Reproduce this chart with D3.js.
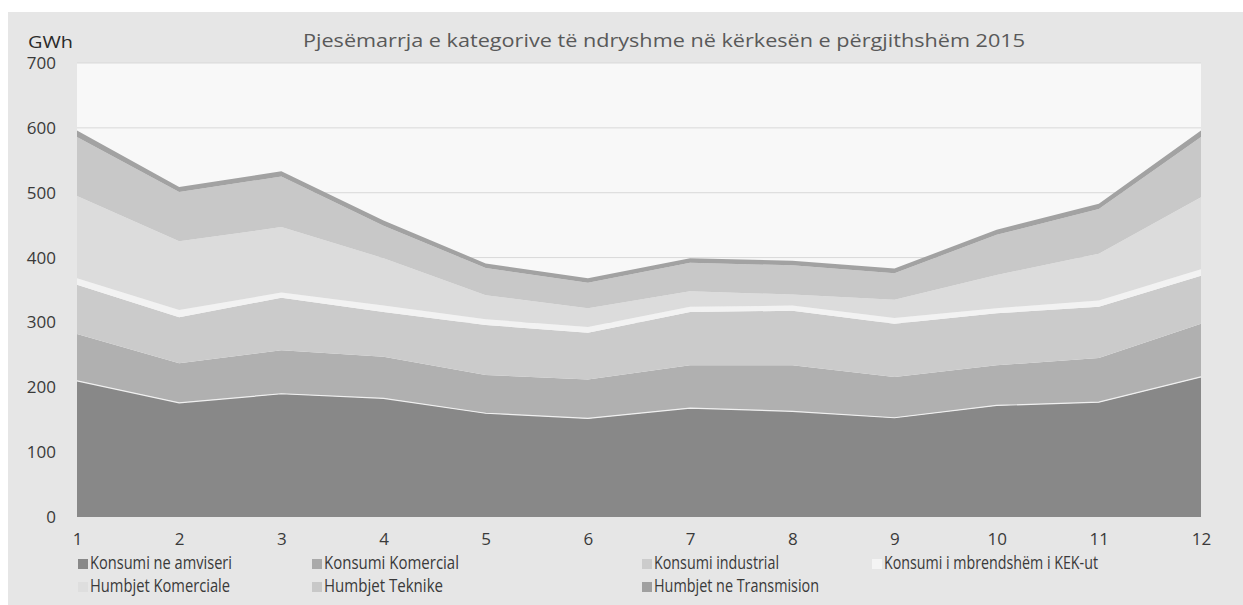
<!DOCTYPE html>
<html>
<head>
<meta charset="utf-8">
<script src="https://cdn.jsdelivr.net/npm/d3@7"></script>
<style>
  html, body { margin: 0; padding: 0; background: #ffffff; }
  svg { display: block; }
  text { font-family: "Open Sans", "Noto Sans", sans-serif; }
</style>
</head>
<body>
<svg id="chart" width="1243" height="605"></svg>
<script>
const months = [1, 2, 3, 4, 5, 6, 7, 8, 9, 10, 11, 12];
const yTicks = [0, 100, 200, 300, 400, 500, 600, 700];

const seriesNames = [
  "Konsumi ne amviseri",
  "Konsumi Komercial",
  "Konsumi industrial",
  "Konsumi i mbrendshëm i KEK-ut",
  "Humbjet Komerciale",
  "Humbjet Teknike",
  "Humbjet ne Transmision"
];
const konsumiAmviseri   = [210, 176, 190, 183, 160, 152, 168, 163, 153, 172, 177, 216];
const konsumiKomercial  = [72, 61, 67, 64, 59, 60, 66, 71, 63, 62, 68, 82];
const konsumiIndustrial = [76, 71, 81, 69, 77, 72, 82, 84, 82, 80, 79, 74];
const konsumiKEK        = [10, 11, 8, 10, 9, 9, 8, 8, 9, 8, 10, 10];
const humbjetKomerciale = [127, 106, 101, 73, 37, 29, 24, 17, 28, 51, 72, 111];
const humbjetTeknike    = [91, 76, 78, 50, 42, 39, 44, 45, 41, 62, 69, 93];
const humbjetTransmision= [10, 8, 8, 8, 7, 7, 7, 7, 7, 8, 8, 10];

const seriesValues = [konsumiAmviseri, konsumiKomercial, konsumiIndustrial, konsumiKEK,
                      humbjetKomerciale, humbjetTeknike, humbjetTransmision];
const colors = ["#888888", "#b0b0b0", "#cbcbcb", "#f2f2f2", "#dcdcdc", "#c8c8c8", "#a2a2a2"];
const legendColors = ["#888888", "#aaaaaa", "#cccccc", "#f4f4f4", "#dedede", "#c8c8c8", "#a0a0a0"];
// legend label widths as seen in the reference (for matching the condensed source font)
const legendWidths = [142, 135, 125, 214, 140, 119, 165];

const svg = d3.select("#chart");
const W = 1243, H = 605;

// outer background
svg.append("rect").attr("x", 8).attr("y", 12).attr("width", W - 8).attr("height", H - 12).attr("fill", "#e6e6e6");

const plot = { left: 77, right: 1201, top: 63, bottom: 517 };
svg.append("rect").attr("x", plot.left).attr("y", plot.top)
  .attr("width", plot.right - plot.left).attr("height", plot.bottom - plot.top).attr("fill", "#f8f8f8");

const x = d3.scaleLinear().domain([1, 12]).range([plot.left, plot.right]);
const y = d3.scaleLinear().domain([0, 700]).range([plot.bottom, plot.top]);

// gridlines
svg.append("g").selectAll("line").data(yTicks.filter(d => d > 0)).join("line")
  .attr("x1", plot.left).attr("x2", plot.right)
  .attr("y1", d => y(d)).attr("y2", d => y(d))
  .attr("stroke", "#d9d9d9").attr("stroke-width", 1);

// data table
const table = months.map((m, i) => {
  const row = { month: m };
  seriesNames.forEach((n, k) => row[n] = seriesValues[k][i]);
  return row;
});
const stacked = d3.stack().keys(seriesNames)(table);

const area = d3.area()
  .x(d => x(d.data.month))
  .y0(d => y(d[0]))
  .y1(d => y(d[1]));

svg.append("g").selectAll("path").data(stacked).join("path")
  .attr("d", area)
  .attr("fill", (d, i) => colors[i]);

// top edge of first series thin white line
const topLine = d3.line().x(d => x(d.data.month)).y(d => y(d[1]));
svg.append("path").datum(stacked[0]).attr("d", topLine)
  .attr("fill", "none").attr("stroke", "#f0f0f0").attr("stroke-width", 1.2);

// y axis labels
const yAxis = d3.axisLeft(y).tickValues(yTicks).tickSize(0).tickPadding(0);
const gy = svg.append("g").attr("transform", `translate(56,0)`).call(yAxis);
gy.select(".domain").remove();
gy.selectAll("text").attr("font-size", "17px").attr("fill", "#3a3a3a")
  .attr("font-family", "'Open Sans', sans-serif");

// x axis labels
const xAxis = d3.axisBottom(x).tickValues(months).tickSize(0).tickPadding(0);
const gx = svg.append("g").attr("transform", `translate(0,533)`).call(xAxis);
gx.select(".domain").remove();
gx.selectAll("text").attr("font-size", "17px").attr("fill", "#3a3a3a")
  .attr("font-family", "'Open Sans', sans-serif");

// unit label
svg.append("text").attr("x", 28).attr("y", 48).text("GWh")
  .attr("font-size", "17px").attr("fill", "#2a2a2a")
  .attr("textLength", 45).attr("lengthAdjust", "spacingAndGlyphs");

// title
svg.append("text").attr("x", 664).attr("y", 47).attr("text-anchor", "middle")
  .attr("font-size", "17.5px").attr("fill", "#595959")
  .attr("textLength", 722).attr("lengthAdjust", "spacingAndGlyphs")
  .text("Pjesëmarrja e kategorive të ndryshme në kërkesën e përgjithshëm 2015");

// legend
const legendPos = [
  [78, 569], [312, 569], [642, 569], [872, 569],
  [78, 592], [312, 592], [642, 592]
];
const lg = svg.append("g").selectAll("g").data(seriesNames).join("g")
  .attr("transform", (d, i) => `translate(${legendPos[i][0]},${legendPos[i][1]})`);
lg.append("rect").attr("x", 0).attr("y", -10).attr("width", 10).attr("height", 10)
  .attr("fill", (d, i) => legendColors[i]);
lg.append("text").attr("x", 12).attr("y", 0).text(d => d)
  .attr("font-size", "18px").attr("fill", "#3a3a3a")
  .attr("textLength", (d, i) => legendWidths[i]).attr("lengthAdjust", "spacingAndGlyphs");
</script>
</body>
</html>
